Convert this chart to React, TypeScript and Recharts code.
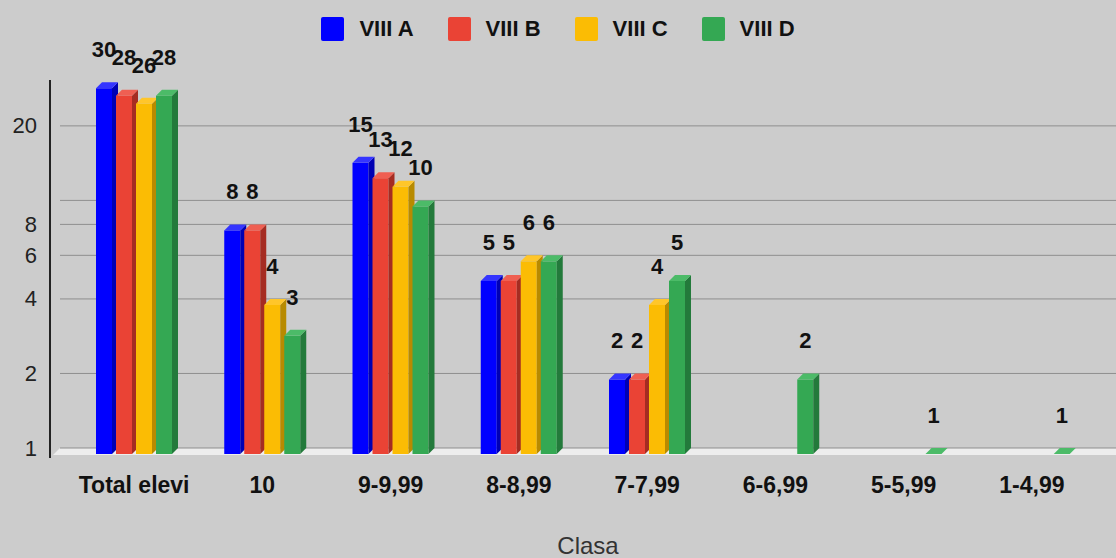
import { BarChart, Bar, XAxis, YAxis, CartesianGrid, LabelList } from "recharts";

const categories = ["Total elevi", "10", "9-9,99", "8-8,99", "7-7,99", "6-6,99", "5-5,99", "1-4,99"];
const viiiA = [30, 8, 15, 5, 2, null, null, null];
const viiiB = [28, 8, 13, 5, 2, null, null, null];
const viiiC = [26, 4, 12, 6, 4, null, null, null];
const viiiD = [28, 3, 10, 6, 5, 2, 1, 1];
const yTicks = [1, 2, 4, 6, 8, 10, 20];
const hiddenTickLabels = [10];

const series = [
  { key: "a", name: "VIII A", values: viiiA, color: "#0000ff", side: "#0000b4", top: "#3535ff" },
  { key: "b", name: "VIII B", values: viiiB, color: "#ea4335", side: "#a52c22", top: "#ef5f52" },
  { key: "c", name: "VIII C", values: viiiC, color: "#fbbc04", side: "#b88a00", top: "#ffc62a" },
  { key: "d", name: "VIII D", values: viiiD, color: "#34a853", side: "#237a3b", top: "#4cbb68" },
];

const data = categories.map((name, i) => {
  const row: Record<string, string | number | null> = { name };
  series.forEach((s) => (row[s.key] = s.values[i]));
  return row;
});

const W = 1116;
const H = 558;
const DEPTH = 6;
const FONT = "'Liberation Sans', Arial, sans-serif";
const BG = "#cccccc";

// minPointSize gives value-1 bars a 1px stub; flatten it back to the floor
function barTop(y: number, height: number) {
  return height <= 1 ? { top: y + height, h: 0 } : { top: y, h: height };
}

function Bar3D(props: any) {
  const { x, y, width, height, s } = props;
  if (x == null || y == null) return null;
  const w = width;
  const { top, h } = barTop(y, height);
  const d = DEPTH;
  return (
    <g>
      {h > 0 && <rect x={x} y={top + d} width={w} height={h} fill={s.color} />}
      {h > 0 && (
        <polygon
          points={`${x + w},${top + d} ${x + w + d},${top} ${x + w + d},${top + h} ${x + w},${top + h + d}`}
          fill={s.side}
        />
      )}
      <polygon points={`${x},${top + d} ${x + w},${top + d} ${x + w + d},${top} ${x + d},${top}`} fill={s.top} />
    </g>
  );
}

function ValueLabel(props: any) {
  const { x, y, width, height, value } = props;
  if (value == null) return null;
  const { top } = barTop(y, height);
  return (
    <text x={x + width / 2} y={top - 25} textAnchor="middle" fontFamily={FONT} fontWeight="bold" fontSize={22} fill="#111">
      {value}
    </text>
  );
}

function CategoryTick(props: any) {
  const { x, y, payload } = props;
  return (
    <text x={x} y={y} dy={37} textAnchor="middle" fontFamily={FONT} fontWeight="bold" fontSize={23} fill="#111">
      {payload.value}
    </text>
  );
}

function ValueTick(props: any) {
  const { y, payload } = props;
  if (hiddenTickLabels.includes(payload.value)) return null;
  return (
    <text x={37} y={y} textAnchor="end" dominantBaseline="central" fontFamily={FONT} fontSize={22} fill="#222">
      {payload.value}
    </text>
  );
}

export default function App() {
  return (
    <div style={{ position: "relative", width: W, height: H, background: BG, overflow: "hidden" }}>
      <style>{`body{margin:0}`}</style>
      <svg width={W} height={H} style={{ position: "absolute", left: 0, top: 0 }}>
        <polygon points={`60,448 ${W},448 ${W},455 53,455`} fill="#ededed" />
        <line x1={50} y1={80} x2={50} y2={458} stroke="#222" strokeWidth={2} />
      </svg>
      <div
        style={{
          position: "absolute",
          top: 16,
          left: 0,
          width: W,
          display: "flex",
          justifyContent: "center",
          gap: 34,
          fontFamily: FONT,
          fontWeight: "bold",
          fontSize: 22,
          color: "#111",
        }}
      >
        {series.map((s) => (
          <div key={s.key} style={{ display: "flex", alignItems: "center", gap: 15 }}>
            <div style={{ width: 23, height: 24, background: s.color, borderRadius: 2 }} />
            <span>{s.name}</span>
          </div>
        ))}
      </div>
      <div style={{ position: "absolute", left: 0, top: 0 }}>
        <BarChart
          width={W}
          height={H}
          data={data}
          margin={{ top: 75, right: 0, left: 0, bottom: 0 }}
          barSize={16}
          barGap={4}
        >
          <CartesianGrid horizontal vertical={false} stroke="#8f8f8f" syncWithTicks />
          <XAxis
            dataKey="name"
            height={110}
            axisLine={false}
            tickLine={false}
            interval={0}
            padding={{ left: 10, right: 20 }}
            tick={<CategoryTick />}
            label={{ value: "Clasa", position: "insideBottom", offset: 4, fontFamily: FONT, fontSize: 24, fill: "#333" }}
          />
          <YAxis
            scale="log"
            domain={[1, 32.1]}
            ticks={yTicks}
            width={60}
            axisLine={false}
            tickLine={false}
            tick={<ValueTick />}
          />
          {series.map((s) => (
            <Bar
              key={s.key}
              dataKey={s.key}
              name={s.name}
              fill={s.color}
              minPointSize={1}
              isAnimationActive={false}
              shape={(p: any) => <Bar3D {...p} s={s} />}
            >
              <LabelList dataKey={s.key} content={<ValueLabel />} />
            </Bar>
          ))}
        </BarChart>
      </div>
    </div>
  );
}
